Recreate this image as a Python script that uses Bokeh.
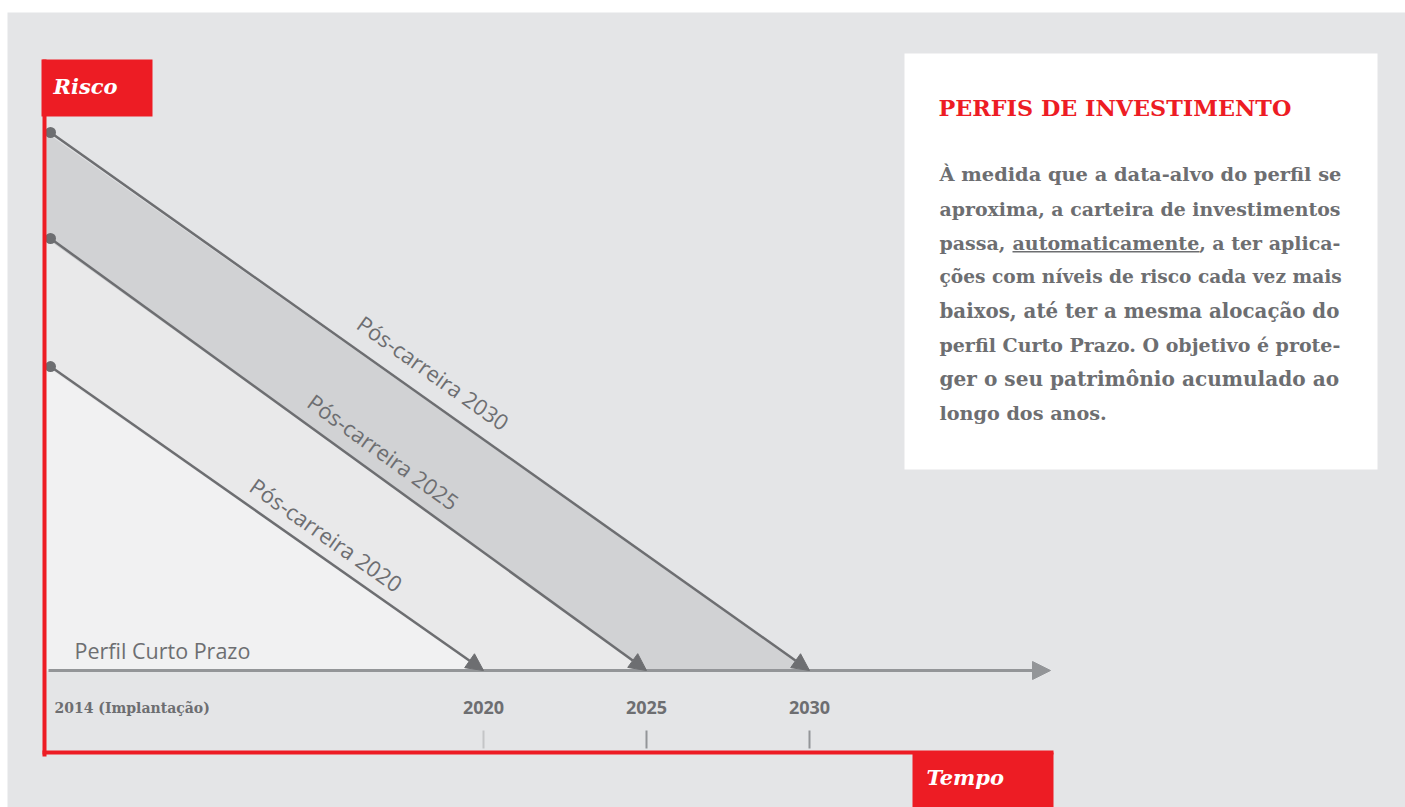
import math
from bokeh.plotting import figure
from bokeh.models import Arrow, NormalHead, Range1d
from bokeh.core.properties import value
from bokeh.embed import file_html
from bokeh.resources import INLINE

# ---------------- data ----------------
profiles = ["Pós-carreira 2020", "Pós-carreira 2025", "Pós-carreira 2030"]
target_years = [2020, 2025, 2030]
start_risk = [56.5, 80.3, 100.0]
tick_years = [2020, 2025, 2030]
tick_labels = ["2020", "2025", "2030"]
origin_label = "2014 (Implantação)"
base_profile = "Perfil Curto Prazo"
y_title = "Risco"
x_title = "Tempo"
box_title = "PERFIS DE INVESTIMENTO"
box_lines = [
    "À medida que a data-alvo do perfil se",
    "aproxima, a carteira de investimentos",
    "passa, automaticamente, a ter aplica-",
    "ções com níveis de risco cada vez mais",
    "baixos, até ter a mesma alocação do",
    "perfil Curto Prazo. O objetivo é prote-",
    "ger o seu patrimônio acumulado ao",
    "longo dos anos.",
]

# ---------------- layout (pixel helpers) ----------------
W, H = 1405, 807
FX, FY = 7, 12            # frame offset inside figure
FW, FH = W - FX, H - FY
KX = 32.6                 # px per year
KY = 5.38                 # px per risk unit
x_start = 2020 - (483 - FX) / KX
x_end = x_start + FW / KX
y_end = (670 - FY) / KY
y_start = y_end - FH / KY


def X(px):
    return x_start + (px - FX) / KX


def Y(py):
    return y_end - (py - FY) / KY


def PX(x):
    return FX + (x - x_start) * KX


def PY(y):
    return FY + (y_end - y) * KY


RED = "#ed1c24"
DARK = "#6d6e71"
BG = "#e4e5e7"
SERIF = value("DejaVu Serif")
SANS = value("Open Sans")

p = figure(width=W, height=H, output_backend="svg", toolbar_location=None,
           x_axis_location=None, y_axis_location=None,
           x_range=Range1d(x_start, x_end), y_range=Range1d(y_start, y_end),
           min_border=0, min_border_top=FY, min_border_left=FX)
p.background_fill_color = BG
p.border_fill_color = "white"
p.outline_line_color = None
p.xgrid.visible = False
p.ygrid.visible = False

# white info box
p.quad(left=[X(904)], right=[X(1377)], top=[Y(53)], bottom=[Y(469)],
       fill_color="white", line_color=None)

# bands
ox = X(46)
dot_x = X(50)
r20, r25, r30 = start_risk
y20, y25, y30 = target_years
p.patch([ox, y30, y25, ox], [r30, 0, 0, r25], fill_color="#d1d2d4", line_color=None)
p.patch([ox, y25, ox], [r25, 0, 0], fill_color="#e9e9ea", line_color=None)
p.patch([ox, y20, ox], [r20, 0, 0], fill_color="#f1f1f2", line_color=None)

# time axis
p.add_layout(Arrow(x_start=X(48), y_start=0, x_end=X(1050), y_end=0,
                   line_color="#939598", line_width=3,
                   end=NormalHead(size=18, fill_color="#939598", line_color="#939598")))

# profile lines
for yr, r in zip(target_years, start_risk):
    p.add_layout(Arrow(x_start=dot_x, y_start=r, x_end=yr, y_end=0,
                       line_color=DARK, line_width=2.5,
                       end=NormalHead(size=17, fill_color=DARK, line_color=DARK)))
p.scatter([dot_x] * 3, start_risk, size=11, fill_color=DARK, line_color=None)

# profile labels (centres)
label_cx = [326, 383, 433]
label_cy = [534, 451, 372]
for name, yr, r, cx, cy in zip(profiles, target_years, start_risk, label_cx, label_cy):
    dx = PX(yr) - PX(dot_x)
    dy = PY(0) - PY(r)
    ang = -math.atan2(dy, dx)
    p.text([X(cx)], [Y(cy)], text=[name], angle=ang, text_align="center",
           text_baseline="middle", text_font=SANS, text_font_size="22px",
           text_color=DARK)

# red L axis
p.segment(x0=[X(44)], y0=[Y(59)], x1=[X(44)], y1=[Y(756)], line_color=RED, line_width=4)
p.segment(x0=[X(42)], y0=[Y(752)], x1=[X(1053)], y1=[Y(752)], line_color=RED, line_width=4)

# title boxes
p.quad(left=[X(41)], right=[X(152)], top=[Y(59)], bottom=[Y(116)], fill_color=RED, line_color=None)
p.text([X(53)], [Y(86)], text=[y_title], text_font=SERIF, text_font_style="bold italic",
       text_font_size="21px", text_color="white", text_baseline="middle")
p.quad(left=[X(912)], right=[X(1053)], top=[Y(752)], bottom=[Y(812)], fill_color=RED, line_color=None)
p.text([X(926)], [Y(777)], text=[x_title], text_font=SERIF, text_font_style="bold italic",
       text_font_size="21px", text_color="white", text_baseline="middle")

# ticks and year labels
p.segment(x0=tick_years, y0=[Y(730)] * 3, x1=tick_years, y1=[Y(748)] * 3,
          line_color=["#c4c5c7", "#939598", "#939598"], line_width=2)
p.text(tick_years, [Y(707)] * 3, text=tick_labels, text_align="center",
       text_baseline="middle", text_font=SANS, text_font_style="bold",
       text_font_size="18px", text_color=DARK)
p.text([X(54)], [Y(707)], text=[origin_label], text_font=SERIF, text_font_style="bold",
       text_font_size="14px", text_color=DARK, text_baseline="middle")

# base profile label
p.text([X(74)], [Y(650)], text=[base_profile], text_font=SANS, text_font_size="21.5px",
       text_color=DARK, text_baseline="middle")

# info box text
p.text([X(938)], [Y(107)], text=[box_title], text_font=SERIF, text_font_style="bold",
       text_font_size="22.3px", text_color=RED, text_baseline="middle")

line_sizes = [19.4, 18.9, 19.0, 18.6, 19.8, 19.0, 20.1, 19.2]
LEFT, RIGHT = 939, 1340
for i, (line, s) in enumerate(zip(box_lines, line_sizes)):
    cy = 174 + 34.1 * i
    fs = f"{s}px"
    kw = dict(text_font=SERIF, text_font_style="bold", text_font_size=fs,
              text_color=DARK, text_baseline="middle")
    if i == 2:
        w = line.split(" ")
        p.text([X(LEFT)], [Y(cy)], text=[w[0]], **kw)
        p.text([X(1012)], [Y(cy)], text=[w[1]], **kw)
        p.text([X(RIGHT)], [Y(cy)], text=[" ".join(w[2:])], text_align="right", **kw)
        p.segment(x0=[X(1012)], y0=[Y(cy + 9)], x1=[X(1199)], y1=[Y(cy + 9)],
                  line_color=DARK, line_width=1.5)
    else:
        p.text([X(LEFT)], [Y(cy)], text=[line], **kw)

open("out.html", "w").write(file_html(p, INLINE))
